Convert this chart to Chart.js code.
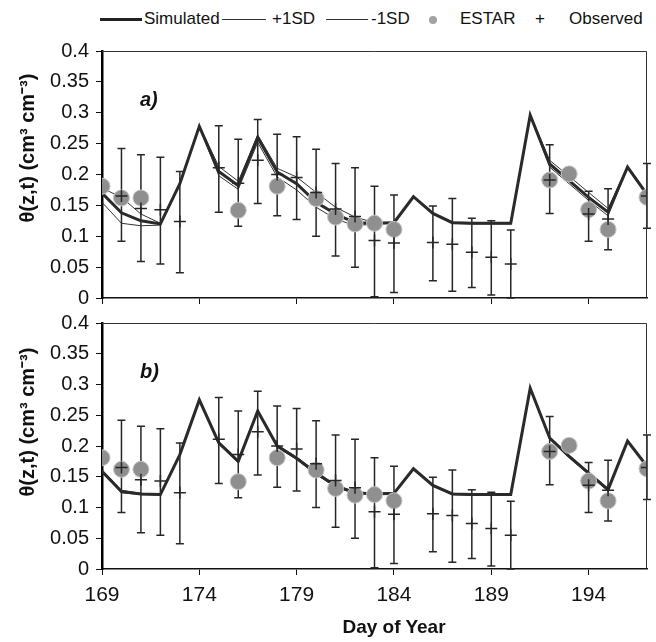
<!DOCTYPE html>
<html>
<head>
<meta charset="utf-8">
<script src="https://cdn.jsdelivr.net/npm/chart.js@4.4.1/dist/chart.umd.min.js"></script>
<style>
body { margin: 0; background: #fff; }
#wrap { position: relative; width: 656px; height: 642px; font-family: "Liberation Sans", Arial, sans-serif; color: #111; }
.box { position: absolute; left: 0; width: 656px; }
#legend { position: absolute; top: 0; left: 0; width: 656px; height: 34px; font-size: 17px; }
#legend span { position: absolute; top: 9px; line-height: 20px; white-space: nowrap; }
#legend i { position: absolute; display: block; }
.ytitle { position: absolute; width: 200px; height: 24px; line-height: 24px; text-align: center; font-weight: bold; font-size: 20px; white-space: nowrap; transform: rotate(-90deg); }
#xtitle { position: absolute; left: 294px; top: 615px; width: 200px; text-align: center; font-weight: bold; font-size: 19px; line-height: 24px; }
</style>
</head>
<body>
<div id="wrap">
  <div id="legend">
    <i style="left:100px;top:18px;width:42px;height:3px;background:#222"></i>
    <span style="left:144px">Simulated</span>
    <i style="left:222px;top:19px;width:44px;height:1px;background:#333"></i>
    <span style="left:272px">+1SD</span>
    <i style="left:326px;top:19px;width:42px;height:1px;background:#333"></i>
    <span style="left:371px">-1SD</span>
    <i style="left:429px;top:16px;width:8px;height:8px;border-radius:50%;background:#a3a3a3"></i>
    <span style="left:460px">ESTAR</span>
    <span style="left:535px">+</span>
    <span style="left:569px">Observed</span>
  </div>
  <div class="box" style="top:30px;height:287px"><canvas id="chartA"></canvas></div>
  <div class="box" style="top:304px;height:338px"><canvas id="chartB"></canvas></div>
  <div class="ytitle" style="left:-73px;top:136px">θ(z,t) (cm³ cm⁻³)</div>
  <div class="ytitle" style="left:-73px;top:410px">θ(z,t) (cm³ cm⁻³)</div>
  <div id="xtitle">Day of Year</div>
</div>
<script>
// jour julien
const days = [169,170,171,172,173,174,175,176,177,178,179,180,181,182,183,184,185,186,187,188,189,190,191,192,193,194,195,196,197];

// panneau a)
const simA   = [0.170,0.138,0.125,0.120,0.185,0.278,0.205,0.182,0.260,0.204,0.185,0.155,0.136,0.122,0.121,0.122,0.164,0.137,0.122,0.121,0.121,0.121,0.296,0.217,0.190,0.163,0.139,0.212,0.168];
const plusA  = [0.178,0.163,0.136,0.121,0.186,0.279,0.213,0.189,0.264,0.210,0.196,0.171,0.147,0.131,0.122,0.123,0.165,0.138,0.123,0.122,0.122,0.122,0.297,0.223,0.197,0.171,0.145,0.213,0.169];
const minusA = [0.155,0.121,0.117,0.118,0.184,0.277,0.198,0.176,0.252,0.196,0.175,0.147,0.128,0.117,0.120,0.121,0.163,0.136,0.121,0.120,0.120,0.120,0.295,0.212,0.185,0.158,0.133,0.211,0.167];

// panneau b)
const simB   = [0.159,0.126,0.122,0.121,0.186,0.275,0.205,0.175,0.257,0.200,0.180,0.156,0.135,0.124,0.122,0.123,0.163,0.136,0.122,0.121,0.121,0.121,0.294,0.213,0.183,0.156,0.129,0.208,0.167];
const plusB  = [0.161,0.128,0.123,0.122,0.187,0.276,0.207,0.177,0.258,0.202,0.182,0.158,0.137,0.125,0.123,0.124,0.164,0.137,0.123,0.122,0.122,0.122,0.295,0.215,0.185,0.158,0.131,0.209,0.168];
const minusB = [0.157,0.124,0.121,0.120,0.185,0.274,0.203,0.173,0.255,0.198,0.178,0.154,0.133,0.123,0.121,0.122,0.162,0.135,0.121,0.120,0.120,0.120,0.293,0.211,0.181,0.154,0.127,0.207,0.166];

// ESTAR
const estarDays = [169,170,171,176,178,180,181,182,183,184,192,193,194,195,197];
const estarVals = [0.181,0.162,0.162,0.142,0.181,0.161,0.131,0.120,0.121,0.111,0.191,0.201,0.143,0.111,0.163];

// observations + ecart type
const obsDays = [170,171,172,173,175,176,177,178,179,180,181,182,183,184,186,187,188,189,190,192,194,195,197];
const obsVals = [0.165,0.145,0.143,0.124,0.211,0.186,0.223,0.200,0.195,0.171,0.144,0.132,0.093,0.089,0.090,0.087,0.074,0.066,0.055,0.191,0.136,0.128,0.165];
const obsHigh = [0.242,0.232,0.228,0.205,0.279,0.257,0.289,0.265,0.261,0.241,0.218,0.211,0.181,0.167,0.149,0.161,0.129,0.125,0.110,0.248,0.173,0.177,0.218];
const obsLow  = [0.092,0.059,0.055,0.041,0.139,0.116,0.153,0.133,0.127,0.100,0.068,0.050,0.002,0.009,0.028,0.011,0.017,0.005,0.000,0.137,0.092,0.078,0.113];

const xTicks = [169,174,179,184,189,194];
const yTicks = [0,0.05,0.1,0.15,0.2,0.25,0.3,0.35,0.4];
const font = '"Liberation Sans", Arial, sans-serif';

const pts = (xs, ys) => xs.map((x, i) => ({x: x, y: ys[i]}));

// barres d'erreur
const errorBars = {
    id: "errorBars",
    beforeDatasetsDraw(chart) {
        const {ctx, scales: {x, y}} = chart;
        ctx.save();
        ctx.strokeStyle = "#262626";
        ctx.lineWidth = 1.5;
        obsDays.forEach((d, i) => {
            const px = x.getPixelForValue(d);
            const top = y.getPixelForValue(obsHigh[i]);
            const bot = y.getPixelForValue(obsLow[i]);
            ctx.beginPath();
            ctx.moveTo(px, top); ctx.lineTo(px, bot);
            ctx.moveTo(px - 4, top); ctx.lineTo(px + 4, top);
            ctx.moveTo(px - 4, bot); ctx.lineTo(px + 4, bot);
            ctx.stroke();
        });
        ctx.restore();
    }
};

// cadre haut/droite + etiquette a) b)
const frame = {
    id: "frame",
    afterDraw(chart, args, opts) {
        const {ctx, chartArea: a} = chart;
        ctx.save();
        ctx.strokeStyle = "#333";
        ctx.lineWidth = 1;
        ctx.beginPath();
        ctx.moveTo(a.left, a.top + 0.5);
        ctx.lineTo(a.right - 0.5, a.top + 0.5);
        ctx.lineTo(a.right - 0.5, a.bottom);
        ctx.stroke();
        ctx.fillStyle = "#111";
        ctx.font = "italic bold 20px " + font;
        ctx.textBaseline = "middle";
        ctx.fillText(opts.label, a.left + 38, a.top + 49);
        ctx.restore();
    }
};

function makeChart(id, sim, plus, minus, label, bottom) {
    const ctx = document.getElementById(id).getContext("2d");
    return new Chart(ctx, {
        type: "line",
        data: {
            datasets: [
                {
                    label: "Observed",
                    data: pts(obsDays, obsVals),
                    showLine: false,
                    pointStyle: "cross",
                    pointRadius: 6,
                    pointBorderWidth: 1.5,
                    pointBorderColor: "#262626",
                    pointBackgroundColor: "#262626"
                },
                {
                    label: "ESTAR",
                    data: pts(estarDays, estarVals),
                    showLine: false,
                    pointStyle: "circle",
                    pointRadius: 8,
                    pointBorderWidth: 1,
                    pointBorderColor: "#c4c4c4",
                    pointBackgroundColor: "#8f8f8f"
                },
                {
                    label: "Simulated",
                    data: pts(days, sim),
                    borderColor: "#2a2a2a",
                    borderWidth: 3,
                    pointRadius: 0,
                    tension: 0
                },
                {
                    label: "+1SD",
                    data: pts(days, plus),
                    borderColor: "#333",
                    borderWidth: 1,
                    pointRadius: 0,
                    tension: 0
                },
                {
                    label: "-1SD",
                    data: pts(days, minus),
                    borderColor: "#333",
                    borderWidth: 1,
                    pointRadius: 0,
                    tension: 0
                }
            ]
        },
        options: {
            responsive: true,
            maintainAspectRatio: false,
            animation: false,
            layout: { padding: {top: bottom ? 0 : 21, right: 8, left: 0, bottom: 0} },
            plugins: {
                legend: { display: false },
                tooltip: { enabled: false },
                frame: { label: label }
            },
            scales: {
                x: {
                    type: "linear",
                    min: 169,
                    max: 197,
                    afterBuildTicks: s => { s.ticks = xTicks.map(v => ({value: v})); },
                    afterFit: s => { s.height = bottom ? 73 : 13; },
                    grid: { drawOnChartArea: false, drawTicks: true, tickLength: 6, color: "#111" },
                    border: { color: "#111", width: 1.5 },
                    ticks: {
                        display: bottom,
                        padding: 8,
                        color: "#111",
                        font: { family: font, size: 21 }
                    }
                },
                y: {
                    min: 0,
                    max: 0.4,
                    afterBuildTicks: s => { s.ticks = yTicks.map(v => ({value: v})); },
                    afterFit: s => { s.width = 102; },
                    grid: { drawOnChartArea: false, drawTicks: true, tickLength: 6, color: "#111" },
                    border: { color: "#000", width: 2.5 },
                    ticks: {
                        padding: 7,
                        color: "#111",
                        font: { family: font, size: 20 },
                        callback: v => String(+v.toFixed(2))
                    }
                }
            }
        },
        plugins: [errorBars, frame]
    });
}

makeChart("chartA", simA, plusA, minusA, "a)", false);
makeChart("chartB", simB, plusB, minusB, "b)", true);
</script>
</body>
</html>
